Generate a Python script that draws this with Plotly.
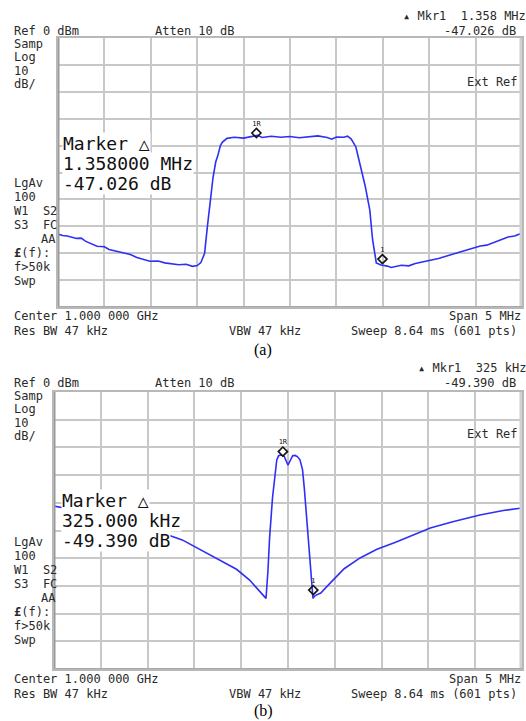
import plotly.graph_objects as go

W, H = 526, 721

# ---------------- data ----------------
# Panel (a): frequency offset from 1 GHz centre (MHz) and level (dBm)
freq_a = [-2.50, -2.45, -2.40, -2.30, -2.25, -2.20, -2.08, -2.00, -1.95, -1.80,
          -1.72, -1.65, -1.51, -1.42, -1.35, -1.20, -1.12, -1.05, -1.00, -0.96,
          -0.92, -0.89, -0.86, -0.83, -0.80, -0.78, -0.75, -0.73, -0.68, -0.60,
          -0.50, -0.40, -0.35, -0.30, -0.20, -0.10, 0.00, 0.10, 0.20, 0.30,
          0.40, 0.45, 0.50, 0.58, 0.62, 0.66, 0.71, 0.765, 0.81, 0.86,
          0.89, 0.93, 0.98, 1.05, 1.09, 1.20, 1.28, 1.35, 1.50, 1.60,
          1.76, 1.90, 2.05, 2.12, 2.22, 2.35, 2.42, 2.50]
level_a = [-72.9, -73.4, -73.6, -74.5, -74.4, -75.6, -77.4, -77.6, -78.6, -80.0,
           -80.5, -81.6, -83.0, -82.9, -83.6, -84.3, -84.1, -84.9, -84.6, -83.5,
           -80.0, -70.0, -60.0, -52.0, -46.0, -44.0, -40.0, -38.8, -37.3, -36.9,
           -37.2, -36.6, -36.2, -37.0, -36.5, -36.9, -36.6, -37.1, -36.7, -36.4,
           -37.0, -37.6, -36.8, -36.9, -36.5, -37.6, -40.5, -48.0, -55.0, -64.0,
           -75.0, -83.6, -84.4, -84.8, -85.3, -84.5, -84.7, -83.8, -82.6, -82.0,
           -80.3, -78.8, -77.3, -77.0, -75.8, -74.0, -73.6, -72.5]

# Panel (b)
freq_b = [-2.50, -2.20, -1.90, -1.50, -1.13, -0.73, -0.55, -0.41, -0.28, -0.235,
          -0.215, -0.196, -0.165, -0.142, -0.12, -0.10, -0.075, -0.04, -0.01, 0.00,
          0.02, 0.05, 0.075, 0.10, 0.128, 0.155, 0.175, 0.214, 0.249, 0.267,
          0.29, 0.35, 0.45, 0.60, 0.77, 0.95, 1.15, 1.35, 1.52, 1.75,
          2.05, 2.30, 2.50]
level_b = [-41.2, -43.0, -45.5, -49.0, -53.4, -60.6, -64.0, -67.9, -72.6, -74.5,
           -65.0, -52.3, -38.0, -30.0, -24.5, -23.0, -22.7, -23.3, -25.5, -26.4,
           -25.0, -23.0, -22.9, -23.3, -24.5, -28.0, -35.0, -52.2, -67.9, -74.5,
           -73.5, -72.6, -69.0, -63.8, -59.9, -56.8, -54.2, -51.4, -49.1, -46.9,
           -44.4, -42.8, -41.9]

marker_labels = ["1R", "1"]
marker_a_f = [-0.362, 0.996]
marker_a_db = [-35.3, -82.2]
marker_b_f = [-0.055, 0.270]
marker_b_db = [-21.5, -71.5]

span_range = [-2.5, 2.5]
level_range = [-100, 0]

# ---------------- figure ----------------
TRACE = "#2f2ff5"
GRID = "#c8c8c8"
TXT = "#2a2a2a"
MONO = "DejaVu Sans Mono"

fig = go.Figure()
fig.add_trace(go.Scatter(x=freq_a, y=level_a, xaxis="x", yaxis="y", mode="lines",
                         line=dict(color=TRACE, width=1.6), hoverinfo="skip"))
fig.add_trace(go.Scatter(x=freq_b, y=level_b, xaxis="x2", yaxis="y2", mode="lines",
                         line=dict(color=TRACE, width=1.6), hoverinfo="skip"))
for xs, ys, xa, ya in [(marker_a_f, marker_a_db, "x", "y"), (marker_b_f, marker_b_db, "x2", "y2")]:
    fig.add_trace(go.Scatter(x=xs, y=ys, xaxis=xa, yaxis=ya, mode="markers+text",
                             text=marker_labels, textposition="top center",
                             textfont=dict(family=MONO, size=7, color="#111"),
                             marker=dict(symbol="diamond-open", size=7, color="#111",
                                         line=dict(width=1.6, color="#111")),
                             hoverinfo="skip"))


def xdom(l, r):
    return [l / W, r / W]


def ydom(t, b):
    return [1 - b / H, 1 - t / H]


def xax(dom):
    return dict(domain=dom, range=span_range, dtick=0.5, tick0=-2.5, showgrid=True,
                gridcolor=GRID, gridwidth=2, showticklabels=False, ticks="",
                zeroline=False, showline=True, linecolor="#b8b8b8", linewidth=2,
                mirror=True, fixedrange=True)


def yax(dom, anchor):
    return dict(domain=dom, range=level_range, dtick=10, tick0=-100, showgrid=True,
                gridcolor=GRID, gridwidth=2, showticklabels=False, ticks="",
                zeroline=False, showline=True, linecolor="#b8b8b8", linewidth=2,
                mirror=True, fixedrange=True, anchor=anchor)


A_L, A_R, A_T, A_B = 58, 522, 38, 307
B_L, B_R, B_T, B_B = 54, 522, 392, 669

fig.update_layout(
    width=W, height=H, margin=dict(l=0, r=0, t=0, b=0),
    paper_bgcolor="white", plot_bgcolor="white", showlegend=False,
    xaxis=dict(xax(xdom(A_L, A_R)), anchor="y"),
    yaxis=yax(ydom(A_T, A_B), "x"),
    xaxis2=dict(xax(xdom(B_L, B_R)), anchor="y2"),
    yaxis2=yax(ydom(B_T, B_B), "x2"),
)

shapes = []
for xa, ya in [("x", "y"), ("x2", "y2")]:
    shapes.append(dict(type="line", xref=xa, yref=ya, x0=-2.5, x1=-2.5, y0=-100, y1=0,
                       line=dict(color="#9a9a9a", width=3)))
    shapes.append(dict(type="line", xref=xa, yref=ya, x0=2.5, x1=2.5, y0=-100, y1=0,
                       line=dict(color="#d0d0d0", width=5)))
    shapes.append(dict(type="line", xref=xa, yref=ya, x0=-2.5, x1=2.5, y0=-100, y1=-100,
                       line=dict(color="#a8a8a8", width=2)))
fig.update_layout(shapes=shapes)

anns = []


def ann(text, x, y, anchor="left", size=12, color=TXT, family=MONO, bg=None):
    d = dict(text=text, x=x / W, y=1 - y / H, xref="paper", yref="paper",
             xanchor=anchor, yanchor="middle", showarrow=False,
             font=dict(family=family, size=size, color=color), borderpad=0)
    if bg:
        d["bgcolor"] = bg
    anns.append(d)


def panel_text(dy, mkr, mkrdb, box, yb_center, yb_res, label, ylabel, side_low, box_x, box_y):
    ann("Ref 0 dBm", 13, 31 + dy)
    ann("Atten 10 dB", 154, 31 + dy)
    ann("\u25b4 Mkr1  " + mkr, 527, 16 + dy, anchor="right")
    ann(mkrdb, 517, 31 + dy, anchor="right")
    for i, t in enumerate(["Samp", "Log", "10", "dB/"]):
        ann(t, 13, 44 + dy + i * 13.3)
    ann("Ext Ref", 519, 82 + dy, anchor="right")
    lows = ["LgAv", "100", "W1  S2", "S3  FC", "AA", "<b>£</b>(f):", "f>50k", "Swp"]
    for i, t in enumerate(lows):
        if t == "AA":
            ann(t, 57, side_low + i * 14, anchor="right")
        else:
            ann(t, 13, side_low + i * 14)
    for i, t in enumerate(box):
        ann(t, box_x, box_y + i * 20, size=18, color="#111", bg="white")
    ann("Center 1.000 000 GHz", 13, yb_center)
    ann("Span 5 MHz", 522, yb_center, anchor="right")
    ann("Res BW 47 kHz", 13, yb_res)
    ann("VBW 47 kHz", 228, yb_res)
    ann("Sweep 8.64 ms (601 pts)", 518, yb_res, anchor="right")
    ann(label, 263, ylabel, anchor="center", size=16, color="#000", family="Liberation Serif")


panel_text(0, "1.358 MHz", "-47.026 dB",
           ["Marker \u25b3", "1.358000 MHz", "-47.026 dB"],
           316, 331, "(a)", 350, 183, 62, 143)
panel_text(352, "325 kHz", "-49.390 dB",
           ["Marker \u25b3", "325.000 kHz", "-49.390 dB"],
           679, 694, "(b)", 711, 542, 61, 500)

fig.update_layout(annotations=anns)

fig.write_html("out.html", include_plotlyjs=True, full_html=True,
               config={"displayModeBar": False, "staticPlot": True},
               post_script="document.body.style.margin='0';document.body.style.overflow='hidden';")
